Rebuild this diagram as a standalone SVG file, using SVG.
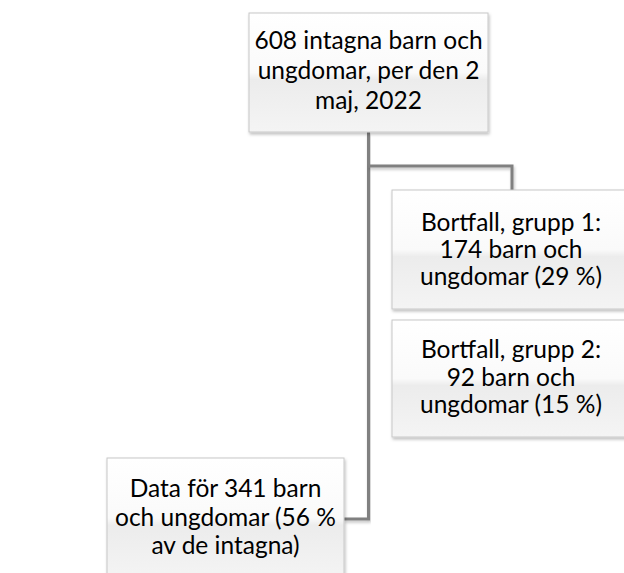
<svg xmlns="http://www.w3.org/2000/svg" width="624" height="573" viewBox="0 0 624 573">
<defs>
<linearGradient id="fill" x1="0" y1="0" x2="0" y2="1">
<stop offset="0" stop-color="#ffffff"/>
<stop offset="0.5" stop-color="#fafafa"/>
<stop offset="0.56" stop-color="#ececec"/>
<stop offset="1" stop-color="#f4f4f4"/>
</linearGradient>
<filter id="sh" x="-10%" y="-10%" width="120%" height="130%">
<feDropShadow dx="1" dy="2" stdDeviation="1.5" flood-color="#000" flood-opacity="0.25"/>
</filter>
</defs>
<style>
.box{fill:url(#fill);stroke:#c8c8c8;stroke-width:1;filter:url(#sh)}
.lbl{font-family:Lato,"Liberation Sans",sans-serif;font-size:24.5px;fill:#000;text-anchor:middle}
.con{fill:none;stroke:#808080;stroke-width:3;filter:url(#sh)}
</style>
<rect width="624" height="573" fill="#ffffff"/>
<g id="connectors">
<path class="con" d="M368.5,132 V519 H344"/>
<path class="con" d="M368.5,166 H512 V190"/>
<path class="con" d="M368.5,380 H392"/>
</g>
<g id="n1">
<rect class="box" x="249" y="13" width="239" height="119"/>
<text class="lbl" x="368.5" y="49">608 intagna barn och</text>
<text class="lbl" x="368.5" y="79">ungdomar, per den 2</text>
<text class="lbl" x="368.5" y="109">maj, 2022</text>
</g>
<g id="n2">
<rect class="box" x="392" y="190" width="240" height="119"/>
<text class="lbl" x="511" y="231">Bortfall, grupp 1:</text>
<text class="lbl" x="511" y="258">174 barn och</text>
<text class="lbl" x="511" y="285">ungdomar (29 %)</text>
</g>
<g id="n3">
<rect class="box" x="392" y="320" width="240" height="117"/>
<text class="lbl" x="511" y="358">Bortfall, grupp 2:</text>
<text class="lbl" x="511" y="386">92 barn och</text>
<text class="lbl" x="511" y="413">ungdomar (15 %)</text>
</g>
<g id="n4">
<rect class="box" x="107" y="458" width="237" height="120"/>
<text class="lbl" x="225.5" y="497">Data för 341 barn</text>
<text class="lbl" x="225.5" y="526">och ungdomar (56 %</text>
<text class="lbl" x="225.5" y="554">av de intagna)</text>
</g>
</svg>
